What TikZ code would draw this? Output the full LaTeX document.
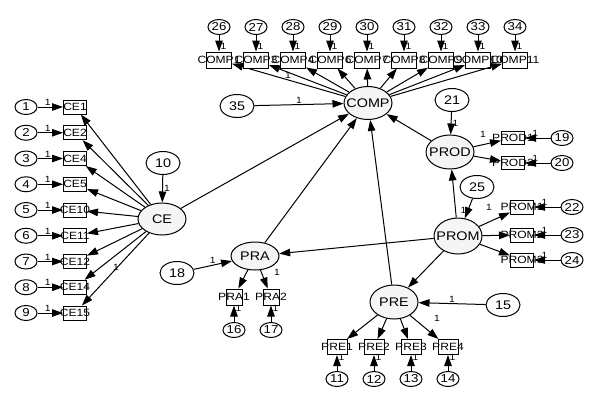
\documentclass[tikz,border=0pt]{standalone}
\usepackage{fontspec}
\setmainfont{Liberation Sans}[FakeStretch=1.15]
\usetikzlibrary{arrows.meta,shapes.geometric}
\newcommand\ZW[1]{\makebox[0pt]{#1}}
\tikzset{
 lat/.style={ellipse,draw,line width=1pt,fill=gray!8,minimum width=48pt,minimum height=33pt,inner sep=0pt,font=\fontsize{12.5}{12.5}\selectfont},
 errL/.style={ellipse,draw,line width=1pt,fill=white,minimum width=34pt,minimum height=23pt,inner sep=0pt,font=\fontsize{12.5}{12.5}\selectfont},
 errS/.style={ellipse,draw,line width=1pt,fill=white,minimum width=22pt,minimum height=15pt,inner sep=0pt,font=\fontsize{11.5}{11.5}\selectfont},
 obs/.style={rectangle,draw,line width=1pt,fill=white,minimum width=23pt,minimum height=14pt,inner sep=0pt,font=\fontsize{10.5}{10.5}\selectfont},
 arr/.style={line width=1pt,-{Triangle[length=11pt,width=7.5pt]}},
 one/.style={font=\fontsize{9}{9}\selectfont,inner sep=1pt},
}
\begin{document}
\begin{tikzpicture}[x=1pt,y=-1pt]
\useasboundingbox (0,0) rectangle (591,405);
% latent variables
\node[lat] (comp) at (368,103) {\ZW{COMP}};
\node[lat,minimum height=32pt] (ce) at (162,219) {\ZW{CE}};
\node[lat,minimum height=28pt] (pra) at (255,256) {\ZW{PRA}};
\node[lat,minimum height=34pt] (pre) at (394,302) {\ZW{PRE}};
\node[lat,minimum height=34pt] (prod) at (450,152) {\ZW{PROD}};
\node[lat,minimum height=36pt] (prom) at (458,236) {\ZW{PROM}};
% large error terms
\node[errL] (e35) at (237,106) {\ZW{35}};
\node[errL] (e10) at (163,163) {\ZW{10}};
\node[errL] (e21) at (452,100) {\ZW{21}};
\node[errL] (e25) at (477,187) {\ZW{25}};
\node[errL] (e18) at (177,273) {\ZW{18}};
\node[errL] (e15) at (503,305) {\ZW{15}};
% structural paths
\draw[arr] (ce) -- (comp);
\draw[arr] (pra) -- (comp);
\draw[arr] (pre) -- (comp);
\draw[arr] (prod) -- (comp);
\draw[arr] (prom) -- (pra);
\draw[arr] (prom) -- (pre);
\draw[arr] (prom) -- (prod);
\draw[arr] (e35) -- (comp) node[one,pos=0.5,above] (l35) {1};
\draw[arr] (e10) -- (ce) node[one,pos=0.5,right] (l10) {1};
\draw[arr] (e21) -- (prod) node[one,pos=0.5,right] (l21) {1};
\draw[arr] (e25) -- (prom) node[one,pos=0.6,left] (l25) {1};
\draw[arr] (e18) -- (pra) node[one,pos=0.5,above] (l18) {1};
\draw[arr] (e15) -- (pre) node[one,pos=0.5,above] (l15) {1};
% COMP indicators
\foreach \x/\lab/\e [count=\i] in {219/COMP1/26,256/COMP3/27,293/COMP4/28,330/COMP6/29,367/COMP7/30,404/COMP8/31,441/COMP9/32,478/COMP10/33,515/COMP11/34} {
  \node[obs,minimum width=25pt,minimum height=16pt] (c\i) at (\x,60) {\ZW{\lab}};
  \node[errS] (ec\i) at (\x,27) {\ZW{\e}};
  \draw[arr] (ec\i) -- (c\i) node[one,pos=0.7,right] (lc\i) {1};
  \draw[arr] (comp) -- (c\i);
}
\node[one] (lcomp) at (288,75) {1};
% CE indicators
\foreach \lab/\e [count=\i] in {CE1/1,CE2/2,CE4/3,CE5/4,CE10/5,CE11/6,CE12/7,CE14/8,CE15/9} {
  \pgfmathsetmacro\yy{107+25.75*(\i-1)}
  \node[obs] (x\i) at (75,\yy) {\ZW{\lab}};
  \node[errS] (ex\i) at (26,\yy) {\ZW{\e}};
  \draw[arr] (ex\i) -- (x\i) node[one,pos=0.4,above] (lx\i) {1};
  \draw[arr] (ce) -- (x\i);
}
\node[one] (lce) at (116,267) {1};
% PROD indicators
\foreach \y/\lab/\e [count=\i] in {138/PROD1/19,163/PROD2/20} {
  \node[obs,minimum height=13pt] (d\i) at (513,\y) {\ZW{\lab}};
  \node[errS] (ed\i) at (562,\y) {\ZW{\e}};
  \draw[arr] (ed\i) -- (d\i) node[one,pos=0.6,above] (ld\i) {1};
  \draw[arr] (prod) -- (d\i);
}
\node[one] (lprod) at (483,134) {1};
% PROM indicators
\foreach \y/\lab/\e [count=\i] in {207/PROM1/22,235/PROM2/23,260/PROM3/24} {
  \node[obs,minimum height=14pt] (m\i) at (522,\y) {\ZW{\lab}};
  \node[errS] (em\i) at (572,\y) {\ZW{\e}};
  \draw[arr] (em\i) -- (m\i) node[one,pos=0.6,above] (lm\i) {1};
  \draw[arr] (prom) -- (m\i);
}
\node[one] (lprom) at (489,207) {1};
% PRE indicators
\foreach \x/\lab/\e [count=\i] in {337/PRE1/11,374/PRE2/12,411/PRE3/13,448/PRE4/14} {
  \node[obs,minimum width=20pt,minimum height=15pt] (r\i) at (\x,347) {\ZW{\lab}};
  \node[errS] (er\i) at (\x,379) {\ZW{\e}};
  \draw[arr] (er\i) -- (r\i) node[one,pos=0.85,right] (lr\i) {1};
  \draw[arr] (pre) -- (r\i);
}
\node[one] (lpre) at (437,318) {1};
% PRA indicators
\foreach \x/\lab/\e [count=\i] in {234/PRA1/16,271/PRA2/17} {
  \node[obs,minimum width=16pt,minimum height=16pt] (a\i) at (\x,297) {\ZW{\lab}};
  \node[errS] (ea\i) at (\x,330) {\ZW{\e}};
  \draw[arr] (ea\i) -- (a\i) node[one,pos=0.85,right] (la\i) {1};
  \draw[arr] (pra) -- (a\i);
}
\node[one] (lpra) at (277,272) {1};
\end{tikzpicture}
\end{document}
